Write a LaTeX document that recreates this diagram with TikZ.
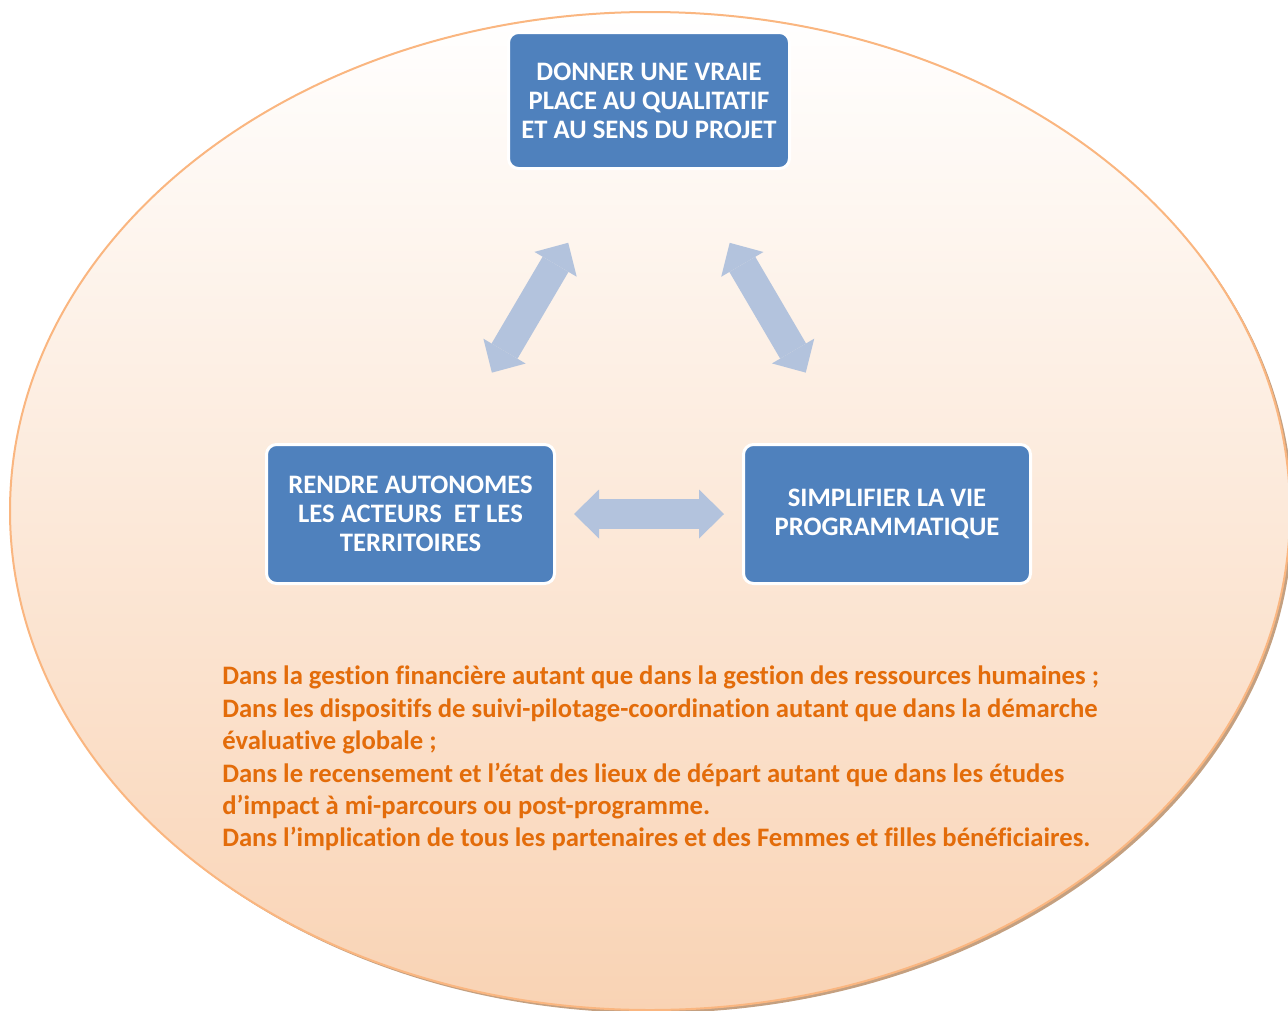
\documentclass[tikz,border=0pt]{standalone}
\usepackage{fontspec}
\setmainfont{Carlito}[Ligatures=NoCommon]
\usetikzlibrary{arrows.meta}
\definecolor{boxblue}{RGB}{79,129,189}
\definecolor{arrowblue}{RGB}{179,195,221}
\definecolor{textorange}{RGB}{227,108,10}
\definecolor{rimorange}{RGB}{250,182,128}
\definecolor{peach}{RGB}{249,211,180}
\definecolor{shadowtan}{RGB}{196,160,128}
\tikzset{
  goalbox/.style={draw=white, line width=2.25pt, fill=boxblue, rounded corners=7.5pt,
    text=white, align=center, font=\bfseries\fontsize{20}{21.75}\selectfont},
  twoway/.style={arrowblue, line width=22.5pt,
    {Triangle[length=18.75pt, width=36.75pt, line width=0pt]}-{Triangle[length=18.75pt, width=36.75pt, line width=0pt]}}
}

\begin{document}
\begin{tikzpicture}[x=0.75pt, y=-0.75pt]
  \useasboundingbox (0,0) rectangle (1288,1010);
  \fill[shadowtan] (653,514) ellipse (640 and 499);
  \draw[rimorange, line width=1.5pt, top color=white, bottom color=peach] (650,511) ellipse (640 and 499);

  \node[goalbox, minimum width=210.75pt, minimum height=102pt] (qualit) at (649,100.5)
    {DONNER UNE VRAIE\\PLACE AU QUALITATIF\\ET AU SENS DU PROJET};
  \node[goalbox, minimum width=216pt, minimum height=104.25pt] (autonom) at (410.5,514)
    {RENDRE AUTONOMES\\LES ACTEURS\ \ ET LES\\TERRITOIRES};
  \node[goalbox, minimum width=215.25pt, minimum height=104.25pt] (simplif) at (887,514)
    {SIMPLIFIER LA VIE\\PROGRAMMATIQUE};

  % double arrows between the goals
  \draw[twoway, shorten <=13.5pt, shorten >=13.5pt] (autonom.east) -- (simplif.west);
  \draw[twoway, shorten <=63.3pt, shorten >=61.2pt] ([xshift=-28.5pt]qualit.south) -- ([xshift=30pt]autonom.north);
  \draw[twoway, shorten <=63.3pt, shorten >=61.2pt] ([xshift=28.5pt]qualit.south) -- ([xshift=-30pt]simplif.north);

  \node[textorange, font=\bfseries\fontsize{20}{24.3}\selectfont, align=left, anchor=north west, inner sep=0pt] (remarks) at (222,666)
    {Dans la gestion financière autant que dans la gestion des ressources humaines ;\\
     Dans les dispositifs de suivi-pilotage-coordination autant que dans la démarche\\
     évaluative globale ;\\
     Dans le recensement et l’état des lieux de départ autant que dans les études\\
     d’impact à mi-parcours ou post-programme.\\
     Dans l’implication de tous les partenaires et des Femmes et filles bénéficiaires.};
\end{tikzpicture}
\end{document}
